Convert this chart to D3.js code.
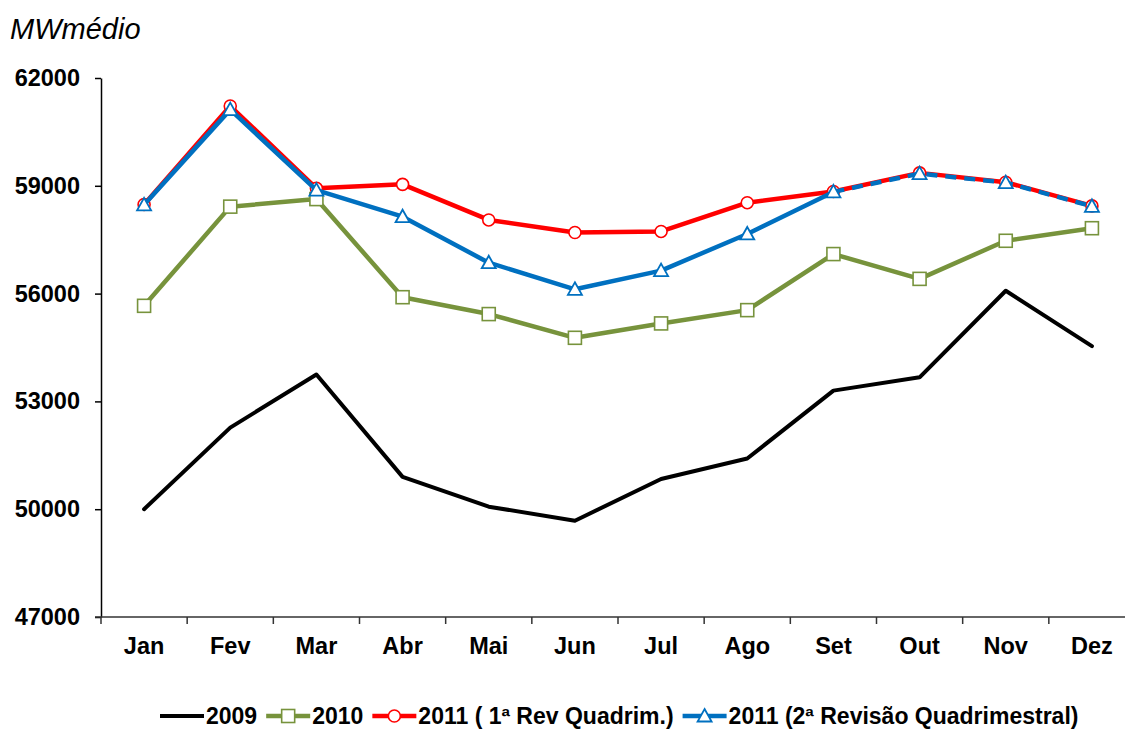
<!DOCTYPE html>
<html>
<head>
<meta charset="utf-8">
<script src="https://cdn.jsdelivr.net/npm/d3@7"></script>
<style>
  html, body { margin: 0; padding: 0; background: #fff; }
  svg { display: block; font-family: "Liberation Sans", Arial, sans-serif; }
</style>
</head>
<body>
<div id="chart"></div>
<script>
const MONTHS = ['Jan', 'Fev', 'Mar', 'Abr', 'Mai', 'Jun', 'Jul', 'Ago', 'Set', 'Out', 'Nov', 'Dez'];
const Y_TICKS = [47000, 50000, 53000, 56000, 59000, 62000];

const V_2009 = [50000, 52270, 53750, 50900, 50070, 49680, 50840, 51410, 53300, 53670, 56080, 54540];
const V_2010 = [55660, 58420, 58630, 55900, 55430, 54770, 55170, 55540, 57100, 56410, 57470, 57820];
const V_2011_1 = [58480, 61220, 58930, 59040, 58050, 57700, 57730, 58530, 58840, 59360, 59100, 58440];
const V_2011_2 = [58470, 61120, 58880, 58140, 56860, 56120, 56640, 57660, 58830, 59340, 59090, 58430];

const SERIES = [
  { name: '2009', values: V_2009, color: '#000000', width: 4, marker: null },
  { name: '2010', values: V_2010, color: '#77933C', width: 4.5, marker: 'square' },
  { name: '2011 ( 1ª Rev Quadrim.)', values: V_2011_1, color: '#FF0000', width: 4.5, marker: 'circle' },
  { name: '2011 (2ª Revisão Quadrimestral)', values: V_2011_2, color: '#0070C0', width: 4.5, marker: 'triangle', dashFrom: 8 }
];

const W = 1125, H = 729;
const plot = { left: 101, right: 1135, top: 78, bottom: 617 };

const svg = d3.select('#chart').append('svg')
  .attr('width', W).attr('height', H);

const x = d3.scaleBand().domain(MONTHS).range([plot.left, plot.right]);
const y = d3.scaleLinear().domain([47000, 62000]).range([plot.bottom, plot.top]);
const cx = m => x(m) + x.bandwidth() / 2;

// titre de l'axe
svg.append('text')
  .attr('x', 10).attr('y', 39)
  .style('font-style', 'italic')
  .style('font-size', '29px')
  .text('MWmédio');

// axe Y
const yAxis = svg.append('g')
  .attr('transform', `translate(${plot.left},0)`)
  .call(d3.axisLeft(y).tickValues(Y_TICKS).tickFormat(d3.format('d')).tickSize(6).tickSizeOuter(0).tickPadding(15));
yAxis.select('.domain').attr('stroke', '#000').attr('stroke-width', 1.5);
yAxis.selectAll('.tick line').attr('stroke', '#000').attr('stroke-width', 1.5);
yAxis.selectAll('text')
  .style('font-size', '23.5px').style('font-weight', 'bold').attr('fill', '#000');

// axe X : ligne, graduations entre les mois, libellés
svg.append('line')
  .attr('x1', plot.left - 6).attr('x2', plot.right)
  .attr('y1', plot.bottom).attr('y2', plot.bottom)
  .attr('stroke', '#333').attr('stroke-width', 1.5);

svg.append('g').selectAll('line')
  .data(MONTHS.concat(['_end']))
  .join('line')
  .attr('x1', (d, i) => plot.left + i * x.bandwidth())
  .attr('x2', (d, i) => plot.left + i * x.bandwidth())
  .attr('y1', plot.bottom).attr('y2', plot.bottom + 7)
  .attr('stroke', '#333').attr('stroke-width', 1.5);

const xAxis = svg.append('g')
  .attr('transform', `translate(0,${plot.bottom})`)
  .call(d3.axisBottom(x).tickSize(0).tickPadding(20));
xAxis.select('.domain').remove();
xAxis.selectAll('text')
  .style('font-size', '23.5px').style('font-weight', 'bold').attr('fill', '#000');

// séries
const line = d3.line().x(d => cx(d.m)).y(d => y(d.v));

function drawMarker(g, type, color, px, py) {
  if (type === 'circle') {
    g.append('circle').attr('cx', px).attr('cy', py).attr('r', 6)
      .attr('fill', '#fff').attr('stroke', color).attr('stroke-width', 1.6);
  } else if (type === 'square') {
    g.append('rect').attr('x', px - 6.5).attr('y', py - 6.5).attr('width', 13).attr('height', 13)
      .attr('fill', '#fff').attr('stroke', color).attr('stroke-width', 1.6);
  } else if (type === 'triangle') {
    g.append('path')
      .attr('d', `M${px},${py - 7}L${px + 7},${py + 5.5}L${px - 7},${py + 5.5}Z`)
      .attr('fill', '#fff').attr('stroke', color).attr('stroke-width', 1.8);
  }
}

SERIES.forEach(s => {
  const g = svg.append('g');
  const pts = s.values.map((v, i) => ({ m: MONTHS[i], v }));
  if (s.dashFrom != null) {
    g.append('path').attr('d', line(pts.slice(0, s.dashFrom + 1)))
      .attr('fill', 'none').attr('stroke', s.color).attr('stroke-width', s.width)
      .attr('stroke-linejoin', 'round');
    g.append('path').attr('d', line(pts.slice(s.dashFrom)))
      .attr('fill', 'none').attr('stroke', s.color).attr('stroke-width', s.width)
      .attr('stroke-dasharray', '11,8');
  } else {
    g.append('path').attr('d', line(pts))
      .attr('fill', 'none').attr('stroke', s.color).attr('stroke-width', s.width)
      .attr('stroke-linejoin', 'round').attr('stroke-linecap', 'round');
  }
  if (s.marker) pts.forEach(p => drawMarker(g, s.marker, s.color, cx(p.m), y(p.v)));
});

// légende
const legend = svg.append('g').attr('transform', 'translate(160,716)');
let lx = 0;
SERIES.forEach(s => {
  const item = legend.append('g').attr('transform', `translate(${lx},0)`);
  item.append('line').attr('x1', 0).attr('x2', 44).attr('y1', 0).attr('y2', 0)
    .attr('stroke', s.color).attr('stroke-width', s.width);
  if (s.marker) drawMarker(item, s.marker, s.color, 22, 0);
  const t = item.append('text')
    .attr('x', 46).attr('y', 8)
    .style('font-size', '23px').style('font-weight', 'bold')
    .text(s.name);
  lx += 46 + t.node().getComputedTextLength() + 9;
});
</script>
</body>
</html>
